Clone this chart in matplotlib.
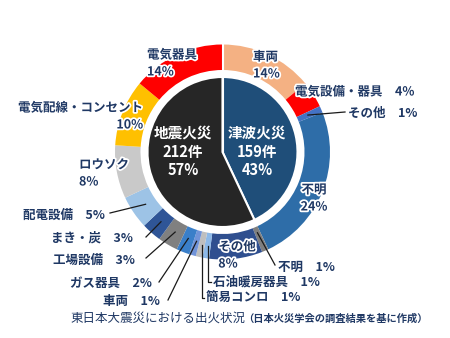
import matplotlib.pyplot as plt
import matplotlib.patheffects as pe
import numpy as np

plt.rcParams['font.family'] = ['Noto Sans CJK JP', 'DejaVu Sans']

# 内側：津波火災 / 地震火災
inner_labels = ['津波火災', '地震火災']
inner_counts = [159, 212]
inner_pcts = [43, 57]
inner_colors = ['#1F4E79', '#262626']

# 外側：出火原因（全体に対する割合 %）
outer_labels = ['車両', '電気設備・器具', 'その他', '不明', '不明', 'その他',
                '石油暖房器具', '簡易コンロ', '車両', 'ガス器具', '工場設備',
                'まき・炭', '配電設備', 'ロウソク', '電気配線・コンセント', '電気器具']
outer_pcts = [14, 4, 1, 24, 1, 8, 1, 1, 1, 2, 3, 3, 5, 8, 10, 14]
outer_colors = ['#F4B183', '#FF0000', '#4472C4', '#2E6DA8', '#7F7F7F', '#2F4F8F',
                '#8DB9E8', '#BFBFBF', '#7093D8', '#3A7FC9', '#808080',
                '#2F5597', '#9DC3E6', '#C9C9C9', '#FFC000', '#FF0000']

W, H = 450, 338
cx, cy = 222.5, H - 152
R = 107.5
navy = '#1F3864'

fig = plt.figure(figsize=(4.5, 3.38), dpi=100)
ax = fig.add_axes([0, 0, 1, 1])

wedges, _ = ax.pie(outer_pcts, radius=R, center=(cx, cy), startangle=90,
                   counterclock=False, colors=outer_colors,
                   wedgeprops=dict(width=25.5, linewidth=0))
ax.pie(inner_pcts, radius=75, center=(cx, cy), startangle=90,
       counterclock=False, colors=inner_colors,
       wedgeprops=dict(edgecolor='white', linewidth=1.5))
ax.plot([cx, cx], [cy, cy + R], color='white', lw=1.5)

ax.set_xlim(0, W)
ax.set_ylim(0, H)
ax.axis('off')

outline = [pe.withStroke(linewidth=2.5, foreground='white')]


def txt(s, px, py, ha='left', glow=False, size=9, weight='bold', color=navy):
    ax.text(px, H - py, s, ha=ha, va='center', fontsize=size, fontweight=weight,
            color=color, path_effects=outline if glow else None)


def anchor(i, r=93):
    w = wedges[i]
    mid = np.deg2rad((w.theta1 + w.theta2) / 2)
    return cx + r * np.cos(mid), cy + r * np.sin(mid)


# 中央の文字
for j, px in [(1, 183), (0, 257)]:
    txt(inner_labels[j], px, 133, 'center', size=10.5, color='white')
    txt(f'{inner_counts[j]}件', px, 152, 'center', size=10.5, color='white')
    txt(f'{inner_pcts[j]}%', px, 170, 'center', size=10.5, color='white')

# リング上のラベル（2行）
two_line = {0: (253, 57, 'left'), 3: (314, 190, 'center'), 13: (79, 165, 'left'),
            14: (143, 108, 'right'), 15: (147, 55, 'left')}
for i, (px, py, ha) in two_line.items():
    txt(outer_labels[i], px, py, ha, glow=True)
    txt(f'{outer_pcts[i]}%', px, py + 17, ha, glow=True)

txt(outer_labels[5], 237, 247, 'center', glow=True)
txt(f'{outer_pcts[5]}%', 228, 264, 'center', glow=True)
txt(f'{outer_labels[1]}　{outer_pcts[1]}%', 295, 92, 'left', glow=True)

# 引き出し線付きラベル
callouts = {2: (348, 113, 'left', 345, 112),
            4: (278, 267, 'left', 275, 265),
            8: (160, 302, 'right', 168, 300),
            9: (152, 283, 'right', 159, 282),
            10: (135, 260, 'right', 146, 258),
            11: (133, 238, 'right', 146, 237),
            12: (105, 215, 'right', 110, 213)}
for i, (px, py, ha, lx, ly) in callouts.items():
    x0, y0 = anchor(i, 88 if i == 4 else 93)
    ax.plot([x0, lx], [y0, H - ly], color='#1a1a1a', lw=0.9)
    txt(f'{outer_labels[i]}　{outer_pcts[i]}%', px, py, ha)

# 縦の引き出し線
for i, (px, py) in {6: (213, 282), 7: (206, 298)}.items():
    x0, y0 = anchor(i, 95)
    ax.plot([x0, x0, px - 2], [y0, H - py, H - py], color='#1a1a1a', lw=0.9)
    txt(f'{outer_labels[i]}　{outer_pcts[i]}%', px, py, 'left')

# キャプション
txt('東日本大震災における出火状況', 70, 318, 'left', size=9, weight='normal')
txt('（日本火災学会の調査結果を基に作成）', 243, 319, 'left', size=7.4)

fig.savefig('out.png', dpi=100)
